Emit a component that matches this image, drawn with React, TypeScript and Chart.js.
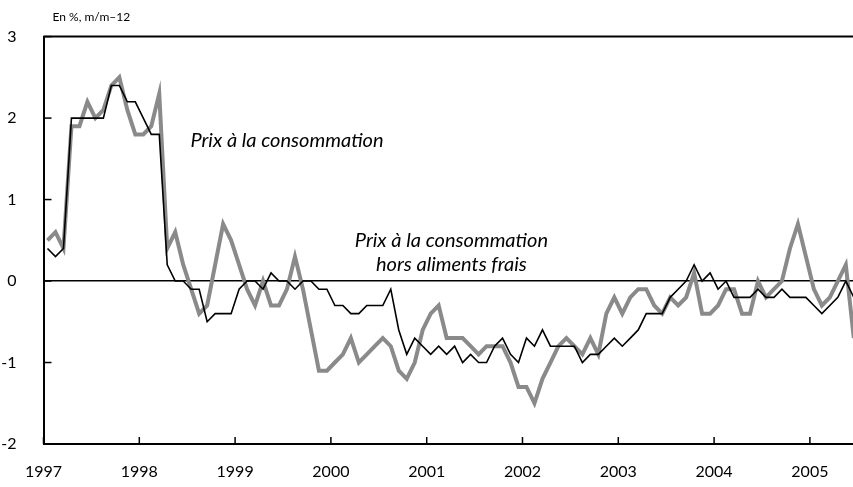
import React, { useEffect, useRef } from 'react';
import { Chart, registerables } from 'chart.js';

Chart.register(...registerables);

// ---- Data (monthly, Jan 1997 .. Jun 2005), % year-on-year ----
const START_YEAR = 1997;
const YEAR_LABELS = ['1997', '1998', '1999', '2000', '2001', '2002', '2003', '2004', '2005'];
const Y_TICKS = [3, 2, 1, 0, -1, -2];

// Prix à la consommation (total, thick grey)
const CPI_TOTAL = [
  0.5, 0.6, 0.4, 1.9, 1.9, 2.2, 2.0, 2.1, 2.4, 2.5, 2.1, 1.8,
  1.8, 1.9, 2.3, 0.4, 0.6, 0.2, -0.1, -0.4, -0.3, 0.2, 0.7, 0.5,
  0.2, -0.1, -0.3, 0.0, -0.3, -0.3, -0.1, 0.3, -0.1, -0.6, -1.1, -1.1,
  -1.0, -0.9, -0.7, -1.0, -0.9, -0.8, -0.7, -0.8, -1.1, -1.2, -1.0, -0.6,
  -0.4, -0.3, -0.7, -0.7, -0.7, -0.8, -0.9, -0.8, -0.8, -0.8, -1.0, -1.3,
  -1.3, -1.5, -1.2, -1.0, -0.8, -0.7, -0.8, -0.9, -0.7, -0.9, -0.4, -0.2,
  -0.4, -0.2, -0.1, -0.1, -0.3, -0.4, -0.2, -0.3, -0.2, 0.1, -0.4, -0.4,
  -0.3, -0.1, -0.1, -0.4, -0.4, 0.0, -0.2, -0.1, 0.0, 0.4, 0.7, 0.3,
  -0.1, -0.3, -0.2, 0.0, 0.2, -0.7,
];

// Prix à la consommation hors aliments frais (core, thin black)
const CPI_CORE = [
  0.4, 0.3, 0.4, 2.0, 2.0, 2.0, 2.0, 2.0, 2.4, 2.4, 2.2, 2.2,
  2.0, 1.8, 1.8, 0.2, 0.0, 0.0, -0.1, -0.1, -0.5, -0.4, -0.4, -0.4,
  -0.1, 0.0, 0.0, -0.1, 0.1, 0.0, 0.0, -0.1, 0.0, 0.0, -0.1, -0.1,
  -0.3, -0.3, -0.4, -0.4, -0.3, -0.3, -0.3, -0.1, -0.6, -0.9, -0.7, -0.8,
  -0.9, -0.8, -0.9, -0.8, -1.0, -0.9, -1.0, -1.0, -0.8, -0.7, -0.9, -1.0,
  -0.7, -0.8, -0.6, -0.8, -0.8, -0.8, -0.8, -1.0, -0.9, -0.9, -0.8, -0.7,
  -0.8, -0.7, -0.6, -0.4, -0.4, -0.4, -0.2, -0.1, 0.0, 0.2, 0.0, 0.1,
  -0.1, 0.0, -0.2, -0.2, -0.2, -0.1, -0.2, -0.2, -0.1, -0.2, -0.2, -0.2,
  -0.3, -0.4, -0.3, -0.2, 0.0, -0.2,
];

const UNIT_LABEL = 'En %, m/m\u201312';
const LABEL_TOTAL = ['Prix à la consommation'];
const LABEL_CORE = ['Prix à la consommation', 'hors aliments frais'];
// label anchors in data units (months since Jan 1997, % value)
const LABEL_TOTAL_AT = { x: 30.5, y: [1.72] };
const LABEL_CORE_AT = { x: 51.1, y: [0.5, 0.2] };

const X_MAX = 101.4; // months shown on the axis
const FONT = 'Lato, "Open Sans", "DejaVu Sans", sans-serif';

const toPoints = (arr: number[]) => arr.map((v, i) => ({ x: i + 0.5, y: v }));

const decorPlugin = {
  id: 'decor',
  afterDraw(chart: any) {
    const { ctx, chartArea, scales } = chart;
    const xs = scales.x;
    const ys = scales.y;
    ctx.save();
    ctx.strokeStyle = '#000';
    // top frame line
    ctx.lineWidth = 2;
    ctx.beginPath();
    ctx.moveTo(chartArea.left, chartArea.top);
    ctx.lineTo(chartArea.right, chartArea.top);
    ctx.stroke();
    // inward ticks
    ctx.lineWidth = 1.5;
    YEAR_LABELS.forEach((_, k) => {
      const px = xs.getPixelForValue(k * 12);
      ctx.beginPath();
      ctx.moveTo(px, chartArea.bottom);
      ctx.lineTo(px, chartArea.bottom - 7);
      ctx.stroke();
    });
    Y_TICKS.forEach((v) => {
      const py = ys.getPixelForValue(v);
      ctx.beginPath();
      ctx.moveTo(chartArea.left, py);
      ctx.lineTo(chartArea.left + 8, py);
      ctx.stroke();
    });
    // unit label
    ctx.fillStyle = '#000';
    ctx.font = `12px ${FONT}`;
    ctx.textAlign = 'left';
    ctx.textBaseline = 'middle';
    ctx.fillText(UNIT_LABEL, chartArea.left + 9, chartArea.top - 19);
    // series labels
    ctx.font = `italic 20px ${FONT}`;
    ctx.textAlign = 'center';
    LABEL_TOTAL.forEach((t, k) => {
      ctx.fillText(t, xs.getPixelForValue(LABEL_TOTAL_AT.x), ys.getPixelForValue(LABEL_TOTAL_AT.y[k]));
    });
    LABEL_CORE.forEach((t, k) => {
      ctx.fillText(t, xs.getPixelForValue(LABEL_CORE_AT.x), ys.getPixelForValue(LABEL_CORE_AT.y[k]));
    });
    ctx.restore();
  },
};

export default function App() {
  const canvasRef = useRef<HTMLCanvasElement | null>(null);

  useEffect(() => {
    document.body.style.margin = '0';
    const canvas = canvasRef.current;
    if (!canvas) return;
    const chart = new Chart(canvas, {
      type: 'line',
      data: {
        datasets: [
          {
            label: LABEL_CORE.join(' '),
            data: toPoints(CPI_CORE),
            borderColor: '#000000',
            borderWidth: 1.6,
            pointRadius: 0,
            tension: 0,
            borderJoinStyle: 'miter',
            order: 0,
          },
          {
            label: LABEL_TOTAL[0],
            data: toPoints(CPI_TOTAL),
            borderColor: '#8a8a8a',
            borderWidth: 4,
            pointRadius: 0,
            tension: 0,
            borderJoinStyle: 'miter',
            order: 1,
          },
        ],
      },
      options: {
        responsive: false,
        animation: false,
        devicePixelRatio: 1,
        layout: { padding: { top: 33, right: 0, left: 0, bottom: 0 } },
        plugins: {
          legend: { display: false },
          tooltip: { enabled: false },
          title: { display: false },
        },
        scales: {
          x: {
            type: 'linear',
            min: 0,
            max: X_MAX,
            afterFit: (scale: any) => {
              scale.height = 43;
            },
            afterBuildTicks: (scale: any) => {
              scale.ticks = YEAR_LABELS.map((_, k) => ({ value: k * 12 }));
            },
            ticks: {
              autoSkip: false,
              maxRotation: 0,
              padding: 18,
              color: '#000',
              font: { family: FONT, size: 16 },
              callback: (v: any) => String(START_YEAR + Math.round(Number(v) / 12)),
            },
            grid: { display: true, drawOnChartArea: false, drawTicks: false },
            border: { display: true, color: '#000', width: 2 },
          },
          y: {
            type: 'linear',
            min: -2,
            max: 3,
            afterFit: (scale: any) => {
              scale.width = 43.5;
            },
            afterBuildTicks: (scale: any) => {
              scale.ticks = Y_TICKS.map((v) => ({ value: v }));
            },
            ticks: {
              padding: 27,
              color: '#000',
              font: { family: FONT, size: 16 },
              callback: (v: any) => String(v),
            },
            grid: {
              display: true,
              drawTicks: false,
              color: (c: any) => (c.tick && c.tick.value === 0 ? '#000' : 'rgba(0,0,0,0)'),
              lineWidth: 1.5,
            },
            border: { display: true, color: '#000', width: 2 },
          },
        },
      },
      plugins: [decorPlugin],
    } as any);
    return () => chart.destroy();
  }, []);

  return (
    <div style={{ width: 853, height: 487, background: '#fff' }}>
      <canvas ref={canvasRef} width={853} height={487} />
    </div>
  );
}
